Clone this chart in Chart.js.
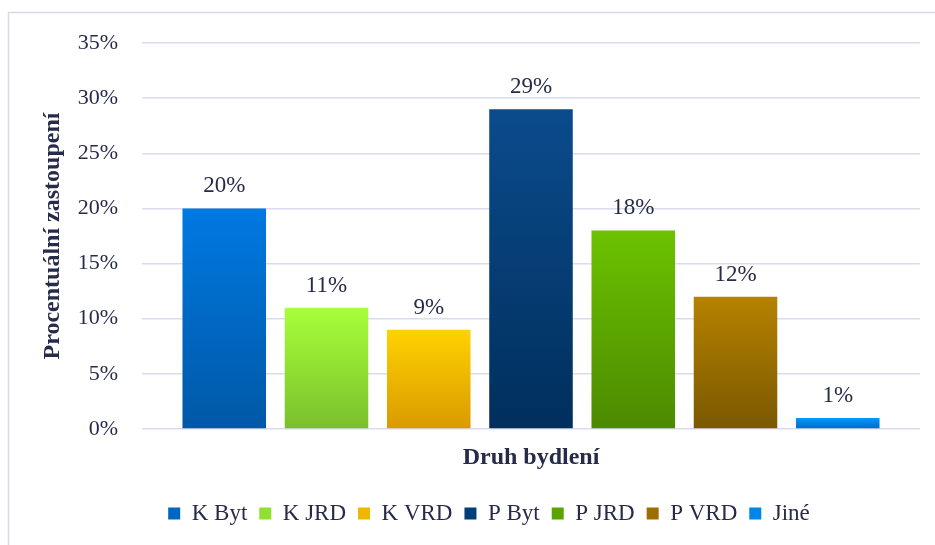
<!doctype html>
<html lang="cs">
    <head>
        <title>Druh bydlení</title>
        <meta charset="utf-8">
        <script src="https://cdn.jsdelivr.net/npm/chart.js@4.4.1/dist/chart.umd.min.js"></script>
        <style>
            body { margin: 0; background: #ffffff; }
            canvas { display: block; }
        </style>
    </head>
    <body>
        <canvas id="myChart" width="935" height="545"></canvas>
        <script>
            // data
            const categories = ['K Byt', 'K JRD', 'K VRD', 'P Byt', 'P JRD', 'P VRD', 'Jiné'];
            const shares = [20, 11, 9, 29, 18, 12, 1];
            const yMax = 35;
            const yStep = 5;
            const xTitle = 'Druh bydlení';
            const yTitle = 'Procentuální zastoupení';

            // styles
            const topColors = ['#0079e2', '#a8ff3a', '#ffd200', '#0b4b8c', '#6cc200', '#b58200', '#0099ff'];
            const bottomColors = ['#0058a6', '#7abf2c', '#d99a00', '#002f5c', '#4c8a00', '#7b5800', '#0068c8'];
            const legendColors = ['#0066c4', '#90e032', '#efb800', '#003f78', '#5aa400', '#9a6e00', '#0085e8'];
            const textColor = '#272b4a';
            const fontFamily = "'Liberation Serif', 'Times New Roman', serif";

            function barFill(ctx) {
                const chart = ctx.chart;
                const i = ctx.datasetIndex;
                if (!chart.chartArea || !chart.scales.y) return topColors[i];
                const y = chart.scales.y;
                const top = y.getPixelForValue(ctx.raw);
                const base = y.getPixelForValue(0);
                const g = chart.ctx.createLinearGradient(0, top, 0, base);
                g.addColorStop(0, topColors[i]);
                g.addColorStop(1, bottomColors[i]);
                return g;
            }

            const frame = {
                id: 'frame',
                beforeDraw(chart) {
                    const c = chart.ctx;
                    c.save();
                    c.fillStyle = '#ffffff';
                    c.fillRect(0, 0, chart.width, chart.height);
                    c.strokeStyle = '#d6d9ee';
                    c.lineWidth = 1.5;
                    c.strokeRect(8.5, 12.5, chart.width + 20, chart.height + 20);
                    c.restore();
                }
            };

            const valueLabels = {
                id: 'valueLabels',
                afterDatasetsDraw(chart) {
                    const c = chart.ctx;
                    c.save();
                    c.font = '23px ' + fontFamily;
                    c.fillStyle = textColor;
                    c.textAlign = 'center';
                    c.textBaseline = 'alphabetic';
                    chart.data.datasets.forEach((ds, i) => {
                        const bar = chart.getDatasetMeta(i).data[0];
                        c.fillText(ds.data[0] + '%', bar.x, bar.y - 16);
                    });
                    c.restore();
                }
            };

            const datasets = categories.map((name, i) => ({
                label: name,
                data: [shares[i]],
                backgroundColor: barFill,
                borderWidth: 0
            }));

            const ctx = document.getElementById('myChart').getContext('2d');
            const myChart = new Chart(ctx, {
                type: 'bar',
                data: {
                    labels: [''],
                    datasets: datasets
                },
                plugins: [frame, valueLabels],
                options: {
                    responsive: false,
                    animation: false,
                    categoryPercentage: 0.92,
                    barPercentage: 0.817,
                    layout: {
                        padding: { left: 58, right: 15, top: 43, bottom: 10 }
                    },
                    plugins: {
                        tooltip: { enabled: false },
                        legend: {
                            position: 'bottom',
                            labels: {
                                boxWidth: 12,
                                boxHeight: 12,
                                padding: 12,
                                color: textColor,
                                font: { family: fontFamily, size: 23 },
                                generateLabels(chart) {
                                    const items = Chart.defaults.plugins.legend.labels.generateLabels(chart);
                                    items.forEach((it, i) => {
                                        it.fillStyle = legendColors[i];
                                        it.strokeStyle = legendColors[i];
                                        it.lineWidth = 0;
                                    });
                                    return items;
                                }
                            }
                        }
                    },
                    scales: {
                        x: {
                            grid: { display: false },
                            border: { display: false },
                            ticks: { display: false },
                            title: {
                                display: true,
                                text: xTitle,
                                color: textColor,
                                font: { family: fontFamily, size: 24, weight: 'bold' },
                                padding: { top: 0, bottom: 18 }
                            },
                            afterFit(scale) { scale.height = 61; }
                        },
                        y: {
                            min: 0,
                            max: yMax,
                            ticks: {
                                stepSize: yStep,
                                padding: 24,
                                color: textColor,
                                font: { family: fontFamily, size: 22 },
                                callback: (v) => v + '%'
                            },
                            grid: { color: '#dadbec', lineWidth: 1.5, drawTicks: false },
                            border: { display: false },
                            title: {
                                display: true,
                                text: yTitle,
                                color: textColor,
                                font: { family: fontFamily, size: 24, weight: 'bold' },
                                padding: { top: -20, bottom: 0 }
                            },
                            afterFit(scale) { scale.width = 84; }
                        }
                    }
                }
            });
        </script>
    </body>
</html>
